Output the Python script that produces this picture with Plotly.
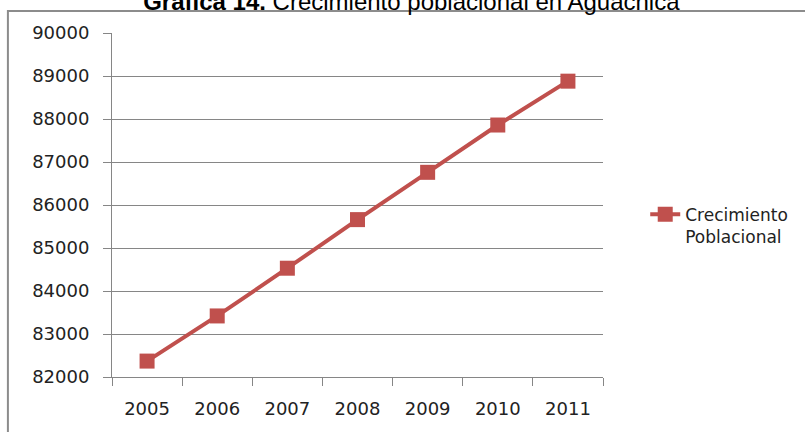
import plotly.graph_objects as go

years = ["2005", "2006", "2007", "2008", "2009", "2010", "2011"]
poblacion = [82370, 83420, 84530, 85660, 86760, 87860, 88880]
serie = "Crecimiento<br>Poblacional"

fig = go.Figure()

fig.add_trace(go.Scatter(
    x=years,
    y=poblacion,
    name=serie,
    mode="lines+markers",
    line=dict(color="#C0504D", width=4),
    marker=dict(symbol="square", size=15, color="#C0504D")
))

# marco gris del grafico
fig.add_shape(
    type="rect", xref="paper", yref="paper",
    x0=-0.212, x1=1.6, y0=-0.2, y1=1.064,
    line=dict(color="#8C8C8C", width=2), layer="below"
)

fig.update_layout(
    width=805,
    height=432,
    margin=dict(l=112, r=202, t=33, b=55),
    paper_bgcolor="white",
    plot_bgcolor="white",
    font=dict(family="DejaVu Sans", size=18, color="#222222"),
    title=dict(
        text="<b>Grafica 14.</b> Crecimiento poblacional en Aguachica",
        font=dict(family="Liberation Sans", size=24, color="black"),
        x=0.511, xref="container", xanchor="center",
        y=1 - 2 / 432, yref="container", yanchor="middle"
    ),
    showlegend=True,
    legend=dict(
        x=1.086, y=0.44, xanchor="left", yanchor="middle",
        valign="top", font=dict(size=17, color="#222222"),
        bgcolor="rgba(0,0,0,0)", borderwidth=0
    )
)

fig.update_xaxes(
    type="category",
    range=[-0.5, 6.5],
    tickson="boundaries",
    ticks="outside",
    ticklen=8,
    tickcolor="#868686",
    showgrid=False,
    showline=True,
    linecolor="#868686",
    ticklabelstandoff=15
)

fig.update_yaxes(
    range=[82000, 90000],
    dtick=1000,
    tickformat="d",
    ticks="outside",
    ticklen=8,
    tickcolor="#868686",
    showgrid=True,
    gridcolor="#868686",
    gridwidth=1,
    showline=True,
    linecolor="#868686",
    zeroline=False,
    ticklabelstandoff=10
)

fig.write_html(
    "out.html",
    config={"displayModeBar": False},
    post_script="document.body.style.margin='0';"
)
